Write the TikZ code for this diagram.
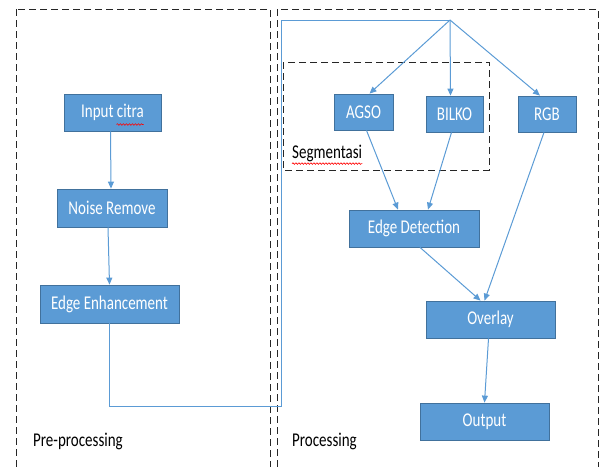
\documentclass[tikz,border=0pt]{standalone}
\usepackage{fontspec}
\setmainfont{Carlito}
\usetikzlibrary{arrows.meta,decorations.pathmorphing}
\definecolor{boxfill}{HTML}{5B9BD5}
\definecolor{boxline}{HTML}{41719C}
\definecolor{flow}{HTML}{5B9BD5}
\newcommand{\tallt}[1]{\scalebox{1}[1.3]{#1}}
\begin{document}
\begin{tikzpicture}[x=1pt, y=-1pt,
	box/.style={rectangle,draw=boxline,fill=boxfill,text=white,line width=0.8pt,inner sep=0pt,font=\fontsize{15}{17}\selectfont},
	frame/.style={draw=black!85,line width=1pt,dash pattern=on 7pt off 4pt},
	flowline/.style={draw=flow,line width=1pt,-{Triangle[width=6pt,length=7pt]}},
	caption/.style={font=\fontsize{15}{17}\selectfont,inner sep=0pt,anchor=west},
	typo/.style={draw=red,line width=0.6pt,decorate,decoration={snake,amplitude=0.8pt,segment length=3pt}}]
	\useasboundingbox (0,0) rectangle (599,466);
	%\fill (0,0) circle (0.1pt);
	\draw[frame] (16,9) rectangle (270,480);
	\draw[frame] (277,9) rectangle (598,480);
	\draw[frame] (283,62) rectangle (489,170);
	\node[caption] (pre) at (33,441) {\tallt{Pre-processing}};
	\node[caption] (proc) at (292,441) {\tallt{Processing}};
	\node[caption] (seg) at (292,153) {\tallt{Segmentasi}};
    \node[box,minimum width=97,minimum height=37] (input) at (112.5,112.5) {\tallt{Input citra}};
    \node[box,minimum width=110,minimum height=38] (noise) at (112,208) {\tallt{Noise Remove}};
    \node[box,minimum width=139,minimum height=38] (enhance) at (109.5,304) {\tallt{Edge Enhancement}};
    \node[box,minimum width=59,minimum height=36] (agso) at (363.5,112) {\tallt{AGSO}};
    \node[box,minimum width=57,minimum height=36] (bilko) at (454.5,114) {\tallt{BILKO}};
    \node[box,minimum width=58,minimum height=36] (rgb) at (547,114) {\tallt{RGB}};
    \node[box,minimum width=130,minimum height=37] (detect) at (414,228.5) {\tallt{Edge Detection}};
    \node[box,minimum width=129,minimum height=37] (overlay) at (490.5,319.5) {\tallt{Overlay}};
    \node[box,minimum width=129,minimum height=37] (output) at (484.5,421.5) {\tallt{Output}};
	\coordinate (turn) at (281,406);
	\coordinate (hub) at (450,20);
	\draw[typo] ([xshift=4pt,yshift=-12pt]input.center) -- ([xshift=31pt,yshift=-12pt]input.center);
	\draw[typo] ([yshift=-2pt]seg.south west) -- ([yshift=-2pt]seg.south east);
	\draw[flowline] ([xshift=-2pt]input.south) -- ([xshift=-1pt]noise.north);
	\draw[flowline] ([xshift=-4pt]noise.south) -- (enhance.north);
	\draw[draw=flow,line width=1pt] (enhance.south) |- (turn) |- (hub);
	\draw[flowline] (hub) -- ([xshift=6pt]agso.north);
	\draw[flowline] (hub) -- ([xshift=-4pt]bilko.north);
	\draw[flowline] (hub) -- ([xshift=-7pt]rgb.north);
	\draw[flowline] ([xshift=3pt]agso.south) -- ([xshift=-16pt]detect.north);
	\draw[flowline] ([xshift=-3pt]bilko.south) -- ([xshift=14pt]detect.north);
	\draw[flowline] ([xshift=-3pt]rgb.south) -- ([xshift=-6pt]overlay.north);
	\draw[flowline] ([xshift=6pt]detect.south) -- ([xshift=-10pt]overlay.north);
	\draw[flowline] ([xshift=-2pt]overlay.south) -- (output.north);
\end{tikzpicture}
\end{document}
